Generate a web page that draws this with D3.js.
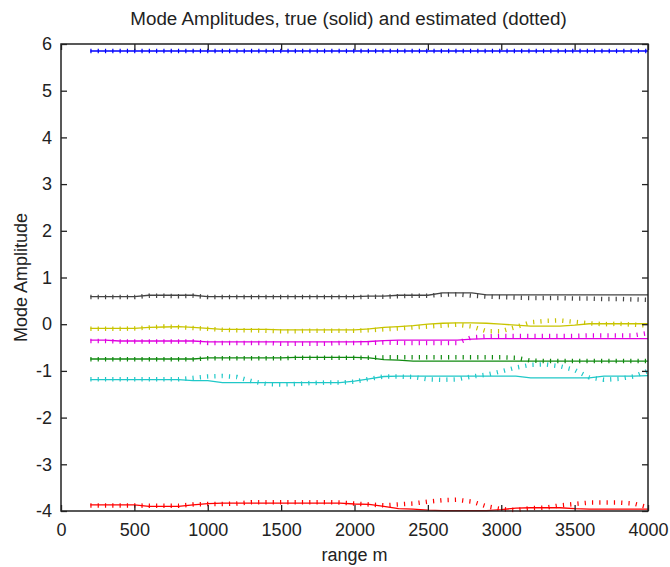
<!DOCTYPE html>
<html>
<head>
<meta charset="utf-8">
<script src="https://cdn.jsdelivr.net/npm/d3@7/dist/d3.min.js"></script>
<style>
  body { margin: 0; background: #fff; }
  svg text { font-family: "Liberation Sans", Arial, sans-serif; fill: #222; }
</style>
</head>
<body>
<div id="chart"></div>
<script>
// range samples (m)
const ranges = [200, 300, 400, 500, 600, 700, 800, 900, 1000, 1100, 1200, 1300, 1400,
  1500, 1600, 1700, 1800, 1900, 2000, 2100, 2200, 2300, 2400, 2500, 2600, 2700, 2800,
  2900, 3000, 3100, 3200, 3300, 3400, 3500, 3600, 3700, 3800, 3900, 4000];

const xTicks = [0, 500, 1000, 1500, 2000, 2500, 3000, 3500, 4000];
const yTicks = [-4, -3, -2, -1, 0, 1, 2, 3, 4, 5, 6];

// true mode amplitudes (solid)
const trueBlue = [5.85, 5.85, 5.85, 5.85, 5.85, 5.85, 5.85, 5.85, 5.85, 5.85, 5.85, 5.85, 5.85,
  5.85, 5.85, 5.85, 5.85, 5.85, 5.85, 5.85, 5.85, 5.85, 5.85, 5.85, 5.85, 5.85, 5.85,
  5.85, 5.85, 5.85, 5.85, 5.85, 5.85, 5.85, 5.85, 5.85, 5.85, 5.85, 5.85];
const trueBlack = [0.59, 0.59, 0.59, 0.59, 0.62, 0.62, 0.62, 0.62, 0.59, 0.59, 0.59, 0.59, 0.59,
  0.59, 0.59, 0.59, 0.59, 0.59, 0.59, 0.60, 0.60, 0.62, 0.62, 0.62, 0.67, 0.67, 0.67,
  0.63, 0.63, 0.63, 0.63, 0.63, 0.63, 0.63, 0.63, 0.63, 0.63, 0.63, 0.63];
const trueYellow = [-0.09, -0.09, -0.09, -0.09, -0.07, -0.06, -0.05, -0.07, -0.09, -0.11, -0.11, -0.11, -0.11,
  -0.12, -0.12, -0.12, -0.12, -0.12, -0.12, -0.10, -0.07, -0.05, -0.03, 0.00, 0.02, 0.03, 0.03,
  0.02, 0.00, -0.02, -0.04, -0.04, -0.04, -0.02, 0.01, 0.01, 0.01, 0.01, 0.01];
const trueMagenta = [-0.34, -0.34, -0.36, -0.36, -0.36, -0.36, -0.36, -0.36, -0.38, -0.38, -0.38, -0.38, -0.38,
  -0.38, -0.38, -0.38, -0.38, -0.38, -0.38, -0.37, -0.35, -0.34, -0.34, -0.34, -0.34, -0.34, -0.32,
  -0.31, -0.31, -0.31, -0.31, -0.31, -0.31, -0.31, -0.31, -0.31, -0.31, -0.31, -0.31];
const trueGreen = [-0.745, -0.745, -0.745, -0.745, -0.745, -0.745, -0.745, -0.745, -0.72, -0.72, -0.72, -0.72, -0.72,
  -0.72, -0.71, -0.71, -0.71, -0.71, -0.71, -0.72, -0.76, -0.77, -0.79, -0.79, -0.79, -0.79, -0.79,
  -0.79, -0.79, -0.79, -0.79, -0.79, -0.79, -0.79, -0.79, -0.79, -0.79, -0.79, -0.79];
const trueCyan = [-1.185, -1.185, -1.185, -1.185, -1.185, -1.185, -1.185, -1.21, -1.21, -1.25, -1.25, -1.25, -1.25,
  -1.25, -1.25, -1.25, -1.25, -1.25, -1.22, -1.17, -1.12, -1.11, -1.11, -1.11, -1.11, -1.11, -1.11,
  -1.11, -1.11, -1.11, -1.15, -1.15, -1.15, -1.15, -1.15, -1.11, -1.11, -1.11, -1.10];
const trueRed = [-3.87, -3.87, -3.87, -3.87, -3.90, -3.90, -3.90, -3.87, -3.84, -3.83, -3.83, -3.83, -3.83,
  -3.83, -3.83, -3.83, -3.83, -3.83, -3.85, -3.86, -3.90, -3.95, -3.96, -3.98, -3.99, -3.99, -3.99,
  -3.99, -3.97, -3.94, -3.93, -3.93, -3.93, -3.95, -3.96, -3.96, -3.96, -3.96, -3.96];

// estimated mode amplitudes (dotted)
const estBlue = [5.85, 5.85, 5.85, 5.85, 5.85, 5.85, 5.85, 5.85, 5.85, 5.85, 5.85, 5.85, 5.85,
  5.85, 5.85, 5.85, 5.85, 5.85, 5.85, 5.85, 5.85, 5.85, 5.85, 5.85, 5.85, 5.85, 5.85,
  5.85, 5.85, 5.85, 5.85, 5.85, 5.85, 5.85, 5.85, 5.85, 5.85, 5.85, 5.85];
const estBlack = [0.58, 0.58, 0.58, 0.58, 0.61, 0.61, 0.60, 0.61, 0.58, 0.58, 0.58, 0.58, 0.58,
  0.58, 0.58, 0.58, 0.58, 0.58, 0.58, 0.59, 0.59, 0.60, 0.61, 0.61, 0.63, 0.64, 0.61,
  0.59, 0.58, 0.57, 0.56, 0.56, 0.56, 0.55, 0.55, 0.54, 0.54, 0.53, 0.52];
const estYellow = [-0.10, -0.10, -0.10, -0.09, -0.07, -0.05, -0.06, -0.08, -0.10, -0.12, -0.13, -0.13, -0.14,
  -0.15, -0.15, -0.14, -0.14, -0.14, -0.14, -0.13, -0.11, -0.09, -0.07, -0.05, -0.03, -0.01, -0.05,
  -0.15, -0.15, -0.06, 0.04, 0.07, 0.08, 0.05, 0.02, 0.00, 0.01, -0.01, -0.03];
const estMagenta = [-0.36, -0.36, -0.37, -0.37, -0.37, -0.37, -0.37, -0.37, -0.40, -0.40, -0.40, -0.40, -0.40,
  -0.42, -0.42, -0.42, -0.42, -0.40, -0.40, -0.40, -0.39, -0.40, -0.40, -0.40, -0.40, -0.40, -0.28,
  -0.26, -0.25, -0.25, -0.25, -0.25, -0.25, -0.25, -0.24, -0.24, -0.24, -0.24, -0.19];
const estGreen = [-0.75, -0.75, -0.75, -0.75, -0.75, -0.75, -0.75, -0.75, -0.73, -0.73, -0.73, -0.73, -0.73,
  -0.73, -0.72, -0.72, -0.72, -0.72, -0.72, -0.72, -0.71, -0.71, -0.71, -0.71, -0.71, -0.71, -0.71,
  -0.71, -0.71, -0.72, -0.78, -0.79, -0.79, -0.79, -0.79, -0.79, -0.79, -0.79, -0.79];
const estCyan = [-1.18, -1.18, -1.18, -1.18, -1.18, -1.18, -1.18, -1.15, -1.12, -1.11, -1.13, -1.22, -1.28,
  -1.29, -1.28, -1.26, -1.25, -1.25, -1.23, -1.17, -1.12, -1.12, -1.13, -1.18, -1.19, -1.18, -1.12,
  -1.08, -1.01, -0.93, -0.87, -0.86, -0.90, -0.98, -1.14, -1.19, -1.17, -1.12, -1.00];
const estRed = [-3.88, -3.88, -3.88, -3.88, -3.89, -3.89, -3.89, -3.86, -3.85, -3.85, -3.84, -3.81, -3.81,
  -3.81, -3.81, -3.81, -3.81, -3.82, -3.84, -3.86, -3.88, -3.86, -3.84, -3.80, -3.77, -3.76, -3.80,
  -3.90, -3.96, -3.98, -3.94, -3.93, -3.88, -3.85, -3.82, -3.82, -3.82, -3.84, -3.92];

const modes = [
  { color: '#0000ff', truth: trueBlue, est: estBlue },
  { color: '#444444', truth: trueBlack, est: estBlack },
  { color: '#c8c400', truth: trueYellow, est: estYellow },
  { color: '#e000e0', truth: trueMagenta, est: estMagenta },
  { color: '#108a10', truth: trueGreen, est: estGreen },
  { color: '#20c8c8', truth: trueCyan, est: estCyan },
  { color: '#ff0000', truth: trueRed, est: estRed }
];

const W = 670, H = 567;
const margin = { top: 44, right: 22, bottom: 56, left: 61 };
const width = W - margin.left - margin.right;
const height = H - margin.top - margin.bottom;

const svg = d3.select('#chart').append('svg')
  .attr('width', W)
  .attr('height', H);

const g = svg.append('g')
  .attr('transform', `translate(${margin.left},${margin.top})`);

const x = d3.scaleLinear().domain([0, 4000]).range([0, width]);
const y = d3.scaleLinear().domain([-4, 6]).range([height, 0]);

// Lines
const line = d3.line().x((d, i) => x(ranges[i])).y(d => y(d));

modes.forEach(m => {
  g.append('path')
    .attr('d', line(m.truth))
    .attr('fill', 'none')
    .attr('stroke', m.color)
    .attr('stroke-width', 1.3);

  // dotted estimate: thick stroke with short dashes reads as little ticks
  g.append('path')
    .attr('d', line(m.est))
    .attr('fill', 'none')
    .attr('stroke', m.color)
    .attr('stroke-width', 4.5)
    .attr('stroke-dasharray', '1.2,6.1');
});

// Axes (MATLAB style: ticks point inward, box all round)
const plainNum = d => String(d);   // hyphen minus, as in the original
const axisStyle = sel => {
  sel.select('.domain').remove();
  sel.selectAll('line').attr('stroke', '#222').attr('stroke-width', 1.3);
  sel.selectAll('text').style('font-size', '18px').attr('fill', '#222');
};

g.append('g')
  .attr('transform', `translate(0,${height})`)
  .call(d3.axisBottom(x).tickValues(xTicks).tickSizeInner(-6).tickSizeOuter(0).tickPadding(12).tickFormat(plainNum))
  .call(axisStyle);

g.append('g')
  .call(d3.axisTop(x).tickValues(xTicks).tickSizeInner(-6).tickSizeOuter(0).tickFormat(''))
  .call(axisStyle);

g.append('g')
  .call(d3.axisLeft(y).tickValues(yTicks).tickSizeInner(-6).tickSizeOuter(0).tickPadding(9).tickFormat(plainNum))
  .call(axisStyle);

g.append('g')
  .attr('transform', `translate(${width},0)`)
  .call(d3.axisRight(y).tickValues(yTicks).tickSizeInner(-6).tickSizeOuter(0).tickFormat(''))
  .call(axisStyle);

g.append('rect')
  .attr('width', width)
  .attr('height', height)
  .attr('fill', 'none')
  .attr('stroke', '#222')
  .attr('stroke-width', 1.5);

// Title and axis labels
svg.append('text')
  .attr('x', margin.left + width / 2 - 6)
  .attr('y', 25)
  .attr('text-anchor', 'middle')
  .style('font-size', '18.8px')
  .text('Mode Amplitudes, true (solid) and estimated (dotted)');

svg.append('text')
  .attr('x', margin.left + width / 2)
  .attr('y', 561)
  .attr('text-anchor', 'middle')
  .style('font-size', '18px')
  .text('range m');

svg.append('text')
  .attr('transform', `translate(27,${margin.top + height / 2}) rotate(-90)`)
  .attr('text-anchor', 'middle')
  .style('font-size', '18px')
  .text('Mode Amplitude');
</script>
</body>
</html>
